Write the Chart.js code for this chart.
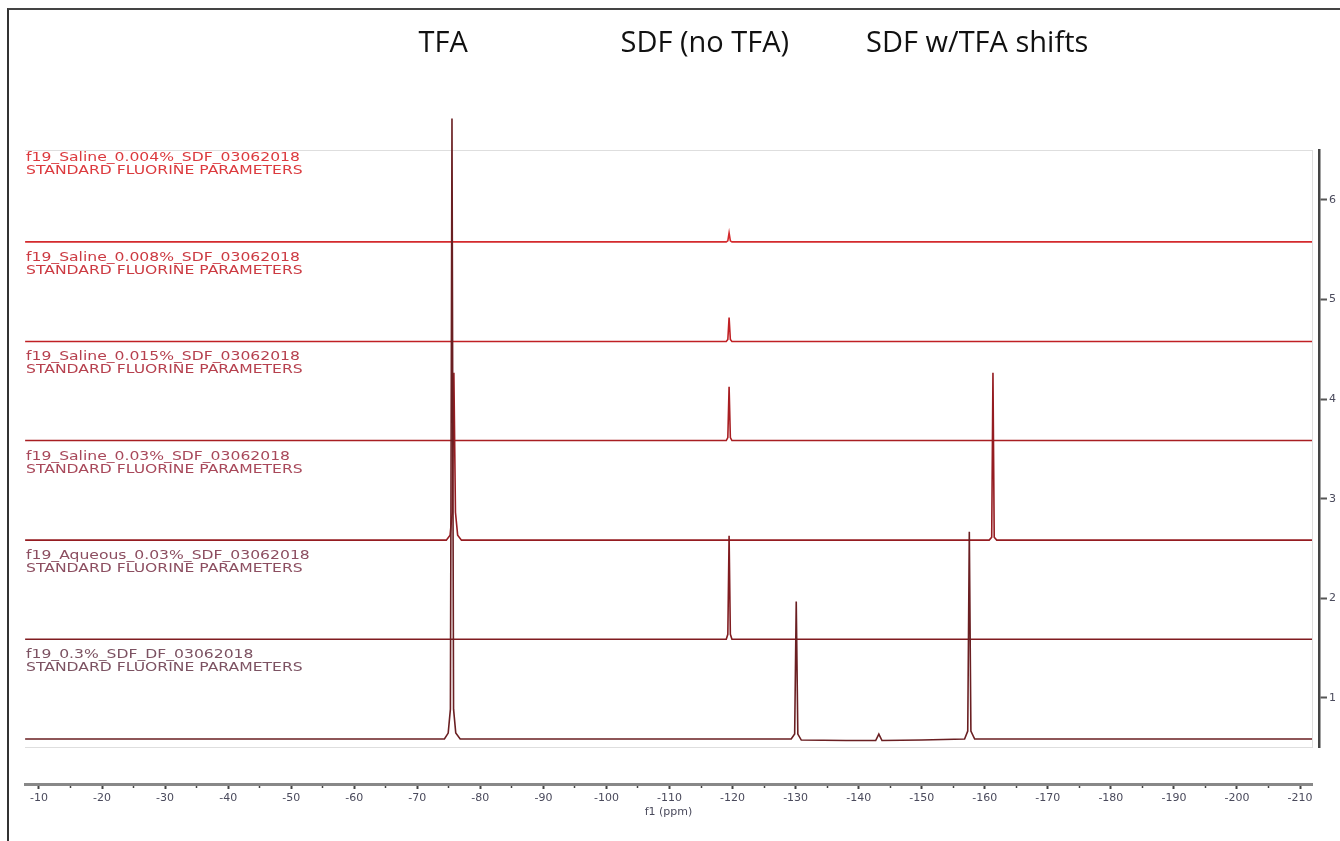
<!DOCTYPE html>
<html>
<head>
<meta charset="utf-8">
<script src="https://cdn.jsdelivr.net/npm/chart.js@4.4.1/dist/chart.umd.min.js"></script>
<style>
  html, body { margin: 0; padding: 0; background: #fff; }
  #wrap { position: relative; width: 1340px; height: 841px; overflow: hidden; }
  #frame { position: absolute; left: 7px; top: 8px; right: -4px; bottom: -4px; border-left: 2px solid #333; border-top: 2px solid #444; pointer-events: none; }
</style>
</head>
<body>
<div id="wrap">
  <canvas id="nmr" width="1340" height="841"></canvas>
  <div id="frame"></div>
</div>
<script>
// spectra, bottom trace first (it is also drawn on top)
const sampleNames = [
    "f19_0.3%_SDF_DF_03062018",
    "f19_Aqueous_0.03%_SDF_03062018",
    "f19_Saline_0.03%_SDF_03062018",
    "f19_Saline_0.015%_SDF_03062018",
    "f19_Saline_0.008%_SDF_03062018",
    "f19_Saline_0.004%_SDF_03062018"
];
const paramLine = "STANDARD FLUORINE PARAMETERS";
const stackOffsets = [0.588, 1.59, 2.585, 3.585, 4.58, 5.58];

// f1 (ppm) / intensity pairs
const ppm_0p3 = [-7.8, -74.3, -74.9, -75.25, -75.5, -75.75, -76.1, -76.8, -110, -129.3, -129.85, -130.1, -130.35, -130.9, -138, -142.7, -143.2, -143.7, -150, -156.8, -157.3, -157.55, -157.8, -158.4, -175, -211.9];
const int_0p3 = [0, 0, 0.06, 0.3, 6.23, 0.3, 0.06, 0, 0, 0, 0.05, 1.38, 0.05, -0.01, -0.015, -0.015, 0.05, -0.015, -0.01, 0, 0.08, 2.08, 0.08, 0, 0, 0];

const ppm_aq = [-7.8, -119.0, -119.25, -119.45, -119.65, -119.9, -211.9];
const int_aq = [0, 0, 0.05, 1.04, 0.05, 0, 0];

const ppm_s030 = [-7.8, -74.6, -75.2, -75.55, -75.8, -76.05, -76.4, -77.0, -120, -160.7, -161.1, -161.3, -161.5, -161.9, -211.9];
const int_s030 = [0, 0, 0.05, 0.28, 1.68, 0.28, 0.05, 0, 0, 0, 0.03, 1.68, 0.03, 0, 0];

const ppm_s015 = [-7.8, -119.0, -119.25, -119.45, -119.65, -119.9, -211.9];
const int_s015 = [0, 0, 0.03, 0.54, 0.03, 0, 0];

const ppm_s008 = [-7.8, -119.0, -119.25, -119.45, -119.65, -119.9, -211.9];
const int_s008 = [0, 0, 0.02, 0.24, 0.02, 0, 0];

const ppm_s004 = [-7.8, -119.0, -119.25, -119.45, -119.65, -119.9, -211.9];
const int_s004 = [0, 0, 0.01, 0.09, 0.01, 0, 0];

const headlines = ["TFA", "SDF (no TFA)", "SDF w/TFA shifts"];
const headlinePpm = [-74.1, -115.6, -158.8];

const traceColors = ["#6a1f22", "#801c20", "#951c21", "#a81e22", "#c02024", "#d42a2d"];
const labelColors = ["#7c5262", "#8c4e60", "#a8485a", "#b6404e", "#cc3a42", "#dc3a3e"];

const spectra = [
    [ppm_0p3, int_0p3], [ppm_aq, int_aq], [ppm_s030, int_s030],
    [ppm_s015, int_s015], [ppm_s008, int_s008], [ppm_s004, int_s004]
];

const X_MIN = -211.9, X_MAX = -7.78;
const Y_MIN = 0.508, Y_MAX = 6.502;

function stretchedText(ctx, text, x, y, sx) {
    ctx.save();
    ctx.translate(x, y);
    ctx.scale(sx, 1);
    ctx.fillText(text, 0, 0);
    ctx.restore();
}

const textPlugin = {
    id: "nmrText",
    afterDatasetsDraw(chart) {
        const { ctx, scales: { x, y } } = chart;
        ctx.save();
        ctx.textBaseline = "middle";
        ctx.textAlign = "left";
        ctx.font = '12px "DejaVu Sans"';
        sampleNames.forEach((name, i) => {
            ctx.fillStyle = labelColors[i];
            stretchedText(ctx, name, 26, y.getPixelForValue(stackOffsets[i] + 0.84), 1.3);
            stretchedText(ctx, paramLine, 26, y.getPixelForValue(stackOffsets[i] + 0.71), 1.3);
        });
        ctx.font = '29px "Open Sans"';
        ctx.fillStyle = "#111";
        ctx.textAlign = "center";
        headlines.forEach((t, i) => ctx.fillText(t, x.getPixelForValue(headlinePpm[i]), 44));
        ctx.restore();
    }
};

const datasets = spectra.map(([ppm, inten], i) => ({
    label: sampleNames[i],
    data: ppm.map((p, k) => ({ x: p, y: stackOffsets[i] + inten[k] })),
    borderColor: traceColors[i],
    borderWidth: 1.6,
    pointRadius: 0,
    tension: 0,
    clip: false,
    xAxisID: "x",
    yAxisID: "y"
}));

const lightBorder = { color: "#dedede", width: 1 };

new Chart(document.getElementById("nmr"), {
    type: "line",
    data: { datasets },
    options: {
        responsive: false,
        animation: false,
        devicePixelRatio: 1,
        layout: { padding: { left: 25, top: 150, right: 0, bottom: 0 } },
        plugins: { legend: { display: false }, tooltip: { enabled: false }, title: { display: false } },
        scales: {
            x: {
                type: "linear", position: "bottom", min: X_MIN, max: X_MAX, reverse: true,
                grid: { display: false }, ticks: { display: false }, border: lightBorder,
                afterFit: s => { s.height = 37; }
            },
            x2: {
                type: "linear", position: "bottom", min: X_MIN, max: X_MAX, reverse: true,
                border: { color: "#888", width: 3 },
                grid: {
                    drawOnChartArea: false, tickLength: 5,
                    tickColor: "#444",
                    tickWidth: c => (Math.round(c.tick.value) % 10 === 0 ? 2 : 1.5),
                    tickBorderDash: c => (Math.round(c.tick.value) % 10 === 0 ? [] : [2, 10])
                },
                ticks: {
                    stepSize: 5, includeBounds: false, autoSkip: false, maxRotation: 0, padding: 3,
                    color: "#4a4a5c", font: { family: "DejaVu Sans", size: 11 },
                    callback: v => (Math.round(v) % 10 === 0 ? String(Math.round(v)) : "")
                },
                title: {
                    display: true, text: "f1 (ppm)", color: "#4a4a5c",
                    font: { family: "DejaVu Sans", size: 11 }, padding: { top: 0, bottom: 22 }
                },
                afterFit: s => { s.height = 57; }
            },
            xTop: {
                type: "linear", position: "top",
                grid: { display: false }, ticks: { display: false }, border: lightBorder,
                afterFit: s => { s.height = 0; }
            },
            y: {
                type: "linear", position: "right", min: Y_MIN, max: Y_MAX,
                grid: { display: false }, ticks: { display: false }, border: lightBorder,
                afterFit: s => { s.width = 7; }
            },
            y2: {
                type: "linear", position: "right", min: Y_MIN, max: Y_MAX,
                border: { color: "#444", width: 2.5 },
                grid: { drawOnChartArea: false, tickLength: 8, tickColor: "#555", tickWidth: 2 },
                ticks: {
                    stepSize: 1, includeBounds: false, padding: 2,
                    color: "#4a4a5c", font: { family: "DejaVu Sans", size: 11 }
                },
                afterFit: s => { s.width = 21; }
            }
        }
    },
    plugins: [textPlugin]
});
</script>
</body>
</html>
